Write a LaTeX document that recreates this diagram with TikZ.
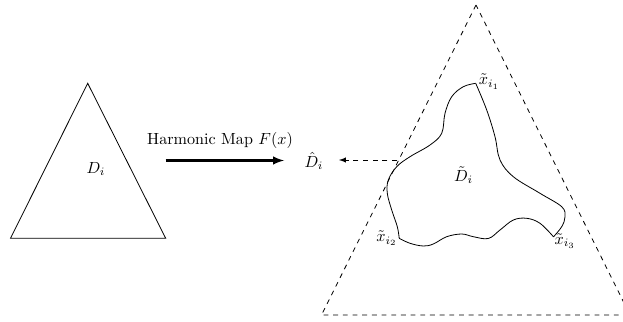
\documentclass[tikz,border=0pt]{standalone}
\usetikzlibrary{arrows}
\begin{document}
\begin{tikzpicture}[x=0.62pt,y=-0.62pt,
  lbl/.style={inner sep=1pt},
  dline/.style={dashed,line width=0.5pt},
  bound/.style={line width=0.5pt},
  maparrow/.style={-latex,line width=1.3pt}]
\useasboundingbox (0,0) rectangle (623,322);
% left triangle
\coordinate (A1) at (87.7,83.3);
\coordinate (A2) at (10.5,238.3);
\coordinate (A3) at (165.7,238.3);
\draw[bound] (A1) -- (A2) -- (A3) -- cycle;
\node[lbl] (Di) at (96,169) {$D_i$};
% harmonic map arrow
\coordinate (M1) at (165.7,160.5);
\coordinate (M2) at (284,160.5);
\draw[maparrow] (M1) -- (M2);
\node[lbl] (hm) at (220,140) {Harmonic Map $F(x)$};
\node[lbl] (Dhat) at (314,161) {$\hat{D}_i$};
% dashed arrow
\coordinate (Q1) at (397,160);
\coordinate (Q2) at (339,160);
\draw[dline,-latex] (Q1) -- (Q2);
% big dashed triangle
\coordinate (B1) at (476,5);
\coordinate (B2) at (321.5,315);
\coordinate (B3) at (630,315);
\draw[dline] (B1) -- (B2) -- (B3) -- cycle;
% curve corners
\coordinate (i1) at (475.7,83.3);
\coordinate (i2) at (399.2,238.3);
\coordinate (i3) at (553.5,236.8);
\draw[bound] plot[smooth,tension=0.6] coordinates {(475.7,83.3) (486.7,110) (495,136.7) (500,160) (513.3,176.7) (540,193.3) (561.7,206.7) (565,216.7) (561.7,226.7) (553.5,236.8)};
\draw[bound] plot[smooth,tension=0.6] coordinates {(553.5,236.8) (540,223.3) (526.7,218.3) (513.3,220) (500,230) (488.3,238.5) (473.3,236.7) (461.7,234) (446.7,236.7) (433.3,244) (423.3,246) (410,243.3) (399.2,238.3)};
\draw[bound] plot[smooth,tension=0.6] coordinates {(399.2,238.3) (397.3,226.7) (391.7,210) (387.3,193.3) (388.3,180) (396.7,166.7) (410,156.7) (430,145) (441.7,133.3) (445,113.3) (451.7,96.7) (463.3,86.7) (475.7,83.3)};
\node[lbl] (Dt) at (463.5,175) {$\tilde{D}_i$};
\node[lbl,anchor=base west] (x1) at (477,85) {$\tilde{x}_{i_1}$};
\node[lbl,anchor=east] (x2) at (i2) {$\tilde{x}_{i_2}$};
\node[lbl] (x3) at (565,241) {$\tilde{x}_{i_3}$};
\end{tikzpicture}
\end{document}
